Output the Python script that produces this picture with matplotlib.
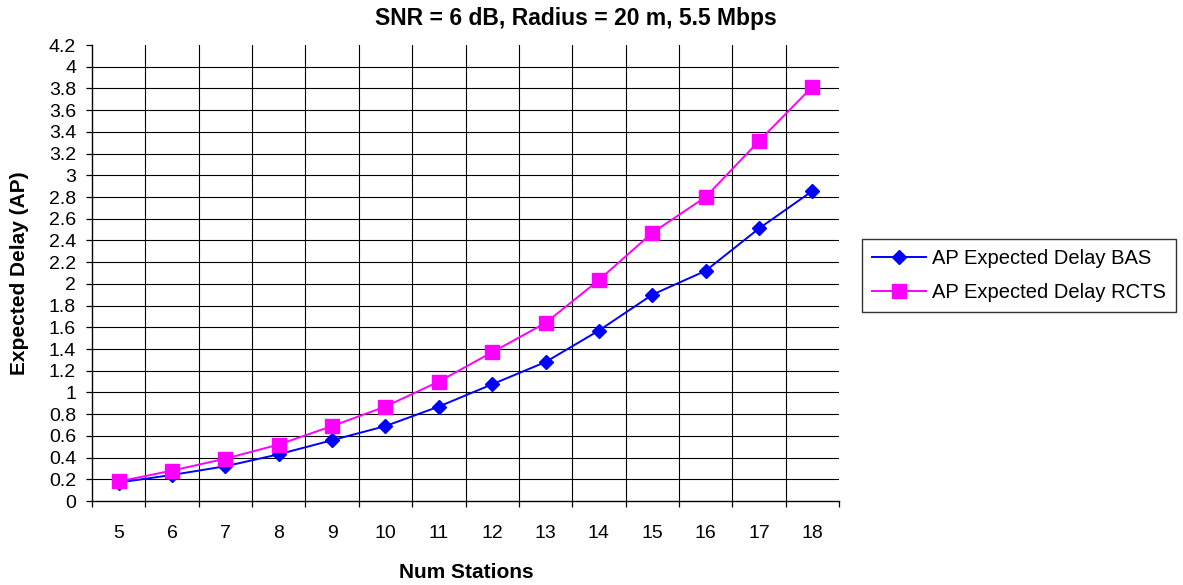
import matplotlib
matplotlib.use("Agg")
import matplotlib.pyplot as plt
import numpy as np

plt.rcParams['font.family'] = ['Liberation Sans', 'DejaVu Sans']

stations = [5, 6, 7, 8, 9, 10, 11, 12, 13, 14, 15, 16, 17, 18]
delay_bas = [0.17, 0.24, 0.32, 0.43, 0.56, 0.69, 0.87, 1.075, 1.28, 1.57, 1.90, 2.12, 2.51, 2.855]
delay_rcts = [0.18, 0.28, 0.39, 0.52, 0.69, 0.87, 1.10, 1.37, 1.64, 2.035, 2.47, 2.80, 3.315, 3.815]
y_ticks = [0, 0.2, 0.4, 0.6, 0.8, 1, 1.2, 1.4, 1.6, 1.8, 2, 2.2, 2.4, 2.6, 2.8, 3, 3.2, 3.4, 3.6, 3.8, 4, 4.2]

W, H = 1183, 585
fig = plt.figure(figsize=(W / 100, H / 100), dpi=100)
ax = fig.add_axes([92 / W, 84 / H, 747 / W, 456 / H])

pos = np.arange(len(stations))
ax.set_xlim(-0.5, len(stations) - 0.5)
ax.set_ylim(0, 4.2)

# grid: horizontal at each y tick (none on top edge), vertical between categories
for v in y_ticks[1:-1]:
    ax.axhline(v, color='black', lw=0.8, zorder=1)
for b in np.arange(0.5, len(stations) - 0.5, 1):
    ax.axvline(b, color='black', lw=0.8, zorder=1)

ax.plot(pos, delay_bas, color='#0000FF', lw=1.4, marker='D', markersize=7.5,
        label='AP Expected Delay BAS', zorder=3)
ax.plot(pos, delay_rcts, color='#FF00FF', lw=1.4, marker='s', markersize=9.5,
        label='AP Expected Delay RCTS', zorder=3)

ax.set_yticks(y_ticks)
ax.set_yticklabels([f'{v:g}' for v in y_ticks])
ax.set_xticks(pos)
ax.set_xticklabels([str(s) for s in stations])
ax.set_xticks(np.arange(-0.5, len(stations), 1), minor=True)
ax.tick_params(axis='x', which='major', length=0, pad=17, labelsize=14)
ax.tick_params(axis='x', which='minor', length=4.5, direction='out', width=0.9)
ax.tick_params(axis='y', length=4.5, direction='out', width=0.9, labelsize=14, pad=7)

for side in ['top', 'right']:
    ax.spines[side].set_visible(False)
for side in ['left', 'bottom']:
    ax.spines[side].set_linewidth(1.0)

fig.text(576 / W, 1 - 18 / H, 'SNR = 6 dB, Radius = 20 m, 5.5 Mbps',
         fontsize=16.5, fontweight='bold', ha='center', va='center')
fig.text(466 / W, 1 - 573 / H, 'Num Stations',
         fontsize=15, fontweight='bold', ha='center', va='center')
fig.text(20 / W, 1 - 273 / H, 'Expected Delay (AP)', rotation=90,
         fontsize=15, fontweight='bold', ha='center', va='center')

leg = fig.legend(loc='center left', bbox_to_anchor=(862 / W, 1 - 275.5 / H),
                 fontsize=14.5, frameon=True, fancybox=False, edgecolor='black',
                 handlelength=2.7, handletextpad=0.3, borderpad=0.5,
                 labelspacing=0.75, borderaxespad=0)
leg.get_frame().set_linewidth(1.0)

fig.savefig('out.png', dpi=100)
